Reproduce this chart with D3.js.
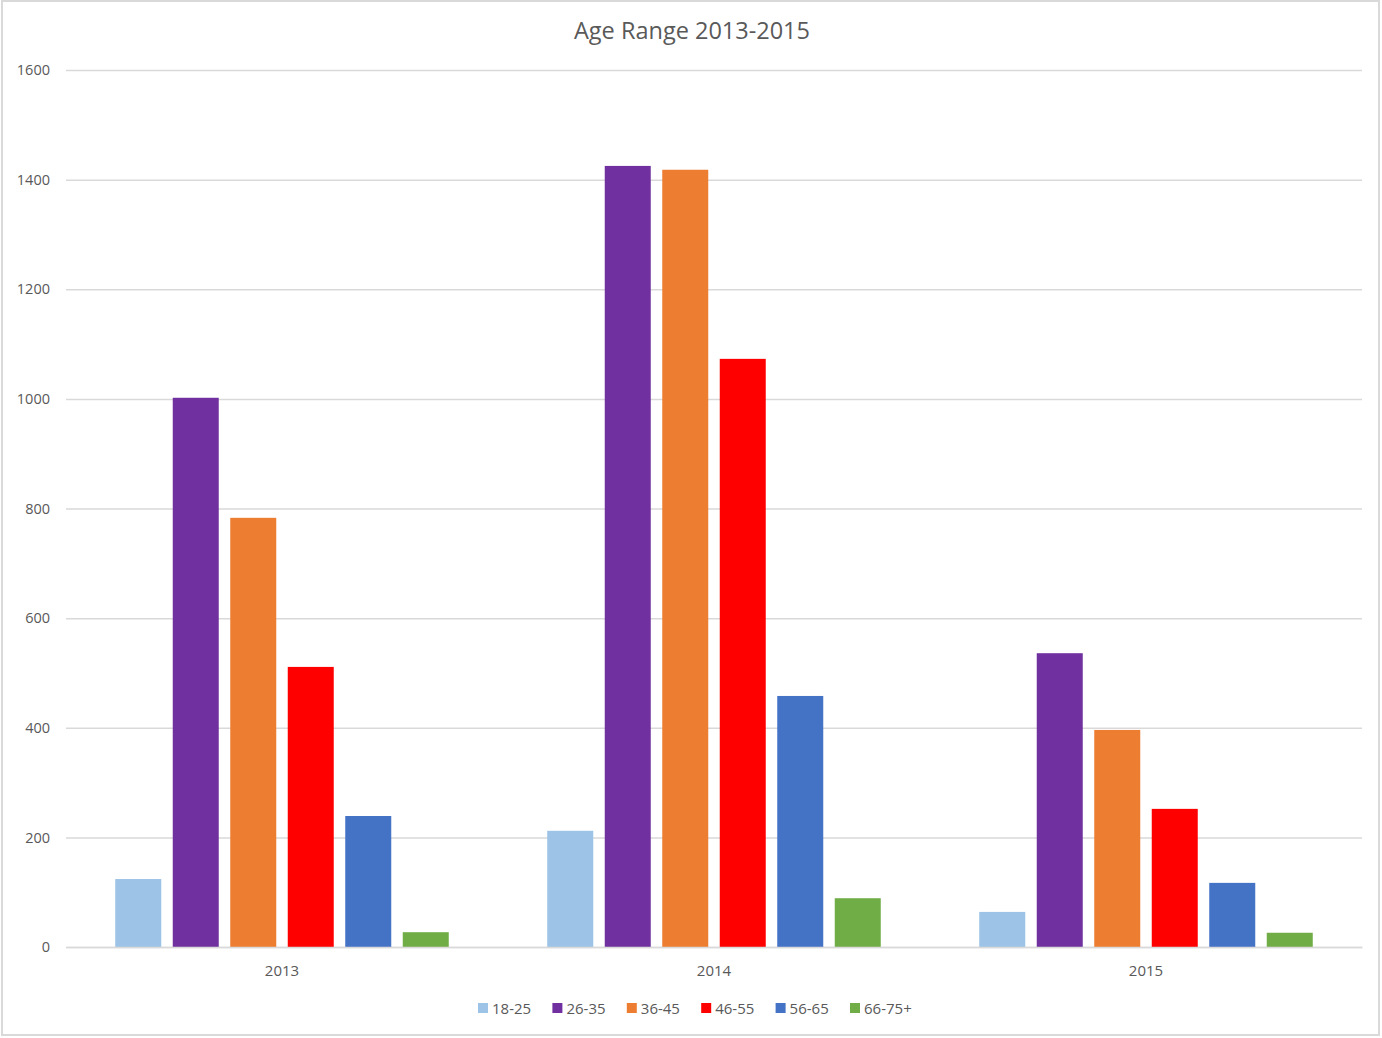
<!DOCTYPE html>
<html><head><meta charset="utf-8">
<script src="https://cdn.jsdelivr.net/npm/d3@7"></script>
<style>body{margin:0;background:#fff;}svg{display:block;}</style>
</head><body>
<svg id="c" width="1382" height="1038"></svg>
<script>
const years = ["2013", "2014", "2015"];
const ageGroups = ["18-25", "26-35", "36-45", "46-55", "56-65", "66-75+"];
const colors = ["#9DC3E6", "#7030A0", "#ED7D31", "#FF0000", "#4472C4", "#70AD47"];
const v2013 = [124, 1002, 783, 511, 239, 27];
const v2014 = [212, 1425, 1418, 1073, 458, 89];
const v2015 = [64, 536, 396, 252, 117, 26];
const yTicks = [0, 200, 400, 600, 800, 1000, 1200, 1400, 1600];
const values = [v2013, v2014, v2015];

const svg = d3.select("#c");
const font = "'Open Sans', 'Noto Sans', sans-serif";
const L = 66, R = 1362, T = 70, B = 947;

svg.append("rect").attr("x", 2).attr("y", 1).attr("width", 1377).attr("height", 1034)
  .attr("fill", "#fff").attr("stroke", "#d9d9d9").attr("stroke-width", 2);

const y = d3.scaleLinear().domain([0, 1600]).range([B, T]);
const x0 = d3.scaleBand().domain(years).range([L, R]).paddingInner(0.228).paddingOuter(0.114);
const x1 = d3.scaleBand().domain(ageGroups).range([0, x0.bandwidth()]).paddingInner(0.2).paddingOuter(0);
const color = d3.scaleOrdinal().domain(ageGroups).range(colors);

// grid
const gy = svg.append("g").attr("transform", `translate(${L},0)`)
  .call(d3.axisLeft(y).tickValues(yTicks).tickFormat(d3.format("d")).tickSize(-(R - L)).tickPadding(16));
gy.select(".domain").remove();
gy.selectAll(".tick line").attr("stroke", "#d9d9d9").attr("stroke-width", 1.5);
gy.selectAll(".tick text").attr("fill", "#595959").attr("font-size", 14.5).attr("font-family", font);

// bars
const groups = svg.append("g").selectAll("g").data(years).join("g")
  .attr("transform", d => `translate(${x0(d)},0)`);
groups.selectAll("rect").data((d, i) => ageGroups.map((a, j) => ({a, v: values[i][j]})))
  .join("rect")
  .attr("x", d => x1(d.a)).attr("width", x1.bandwidth())
  .attr("y", d => y(d.v)).attr("height", d => B - y(d.v))
  .attr("fill", d => color(d.a));

// x axis
const gx = svg.append("g").attr("transform", `translate(0,${B})`)
  .call(d3.axisBottom(x0).tickSize(0).tickPadding(18));
gx.select(".domain").attr("stroke", "#d9d9d9").attr("stroke-width", 1.5);
gx.selectAll(".tick text").attr("fill", "#595959").attr("font-size", 15).attr("font-family", font);

// title
svg.append("text").attr("x", 692).attr("y", 39).attr("text-anchor", "middle")
  .attr("font-family", font).attr("font-size", 23.5).attr("fill", "#595959")
  .text("Age Range 2013-2015");

// legend
const leg = svg.append("g").attr("transform", "translate(478,1003)");
const li = leg.selectAll("g").data(ageGroups).join("g")
  .attr("transform", (d, i) => `translate(${i * 74.4},0)`);
li.append("rect").attr("width", 10).attr("height", 10).attr("fill", d => color(d));
li.append("text").attr("x", 14).attr("y", 11).attr("font-family", font).attr("font-size", 15)
  .attr("fill", "#595959").text(d => d);
</script>
</body></html>
